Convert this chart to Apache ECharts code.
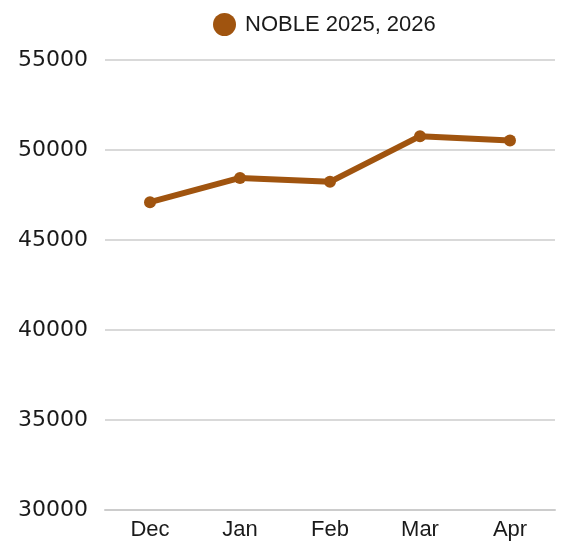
<!DOCTYPE html>
<html><head><meta charset="utf-8">
<script src="https://cdn.jsdelivr.net/npm/echarts@6/dist/echarts.min.js"></script>
<style>html,body{margin:0;padding:0;background:#fff}#c{width:561px;height:548px}</style>
</head><body><div id="c"></div>
<script>
const categories = ['Dec', 'Jan', 'Feb', 'Mar', 'Apr'];
const seriesName = 'NOBLE 2025, 2026';
const values = [47100, 48450, 48230, 50770, 50530];
const yTicks = [30000, 35000, 40000, 45000, 50000, 55000];

const chart = echarts.init(document.getElementById('c'));
chart.setOption({
  animation: false,
  legend: {
    top: 8, left: 208,
    icon: 'circle', itemWidth: 23, itemHeight: 23,
    textStyle: { fontFamily: 'Liberation Sans, Arial, sans-serif', fontSize: 22, color: '#1a1a1a', padding: [0, 0, 0, 4] }
  },
  grid: { left: 105, right: 6, top: 60, bottom: 38 },
  xAxis: {
    type: 'category', data: categories, boundaryGap: true,
    axisLine: { lineStyle: { color: '#cccccc', width: 2 } },
    axisTick: { show: false },
    axisLabel: { fontFamily: 'Liberation Sans, Arial, sans-serif', fontSize: 22, color: '#1a1a1a', margin: 9 }
  },
  yAxis: {
    type: 'value', min: yTicks[0], max: yTicks[yTicks.length - 1], interval: 5000,
    axisLine: { show: false }, axisTick: { show: false },
    splitLine: { lineStyle: { color: '#cccccc', width: 1.5 } },
    axisLabel: { fontFamily: 'DejaVu Sans, sans-serif', fontSize: 22, color: '#1a1a1a', margin: 17,
      padding: [10, 0, 0, 0], formatter: v => String(v) }
  },
  series: [{
    name: seriesName, type: 'line', data: values,
    symbol: 'circle', symbolSize: 12,
    lineStyle: { color: '#a0540f', width: 6 },
    itemStyle: { color: '#a0540f' }
  }]
});
</script></body></html>
